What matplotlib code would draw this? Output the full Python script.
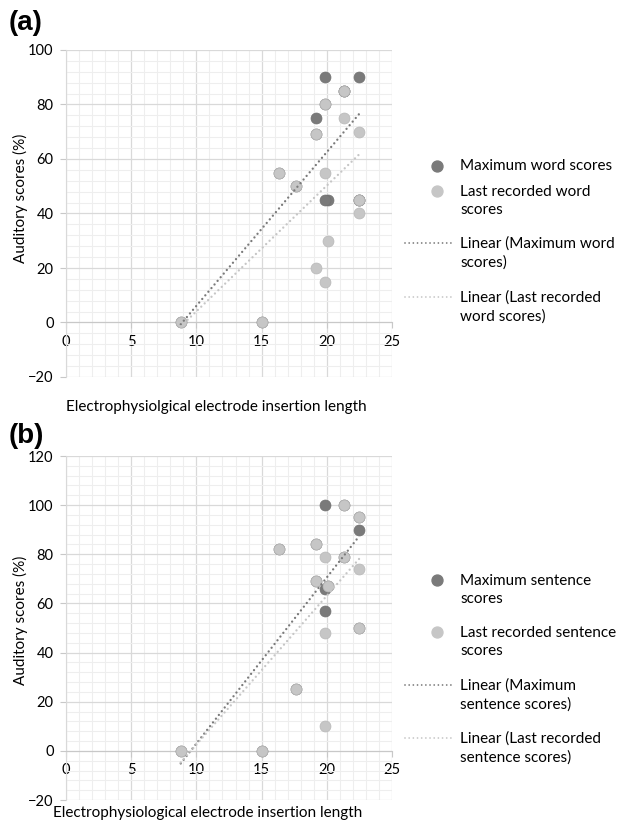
import matplotlib
matplotlib.use("Agg")
import matplotlib.pyplot as plt
from matplotlib.lines import Line2D
from matplotlib.ticker import MultipleLocator
import numpy as np

plt.rcParams['font.family'] = ['Lato', 'DejaVu Sans']

# Panel (a) - word scores
len_a = [21.3, 19.9, 21.3, 19.2, 22.5, 16.3, 19.9, 17.6, 22.5, 22.5, 20.1, 19.2, 19.9, 8.8, 15]
max_word = [85, 90, 85, 75, 90, 55, 80, 50, 45, 45, 45, 69, 45, 0, 0]
last_word = [85, 80, 75, 69, 70, 55, 55, 50, 45, 40, 30, 20, 15, 0, 0]

# Panel (b) - sentence scores
len_b = [21.3, 22.5, 16.3, 19.2, 19.9, 21.3, 22.5, 19.2, 20.1, 19.9, 22.5, 17.6, 19.9, 8.8, 15]
max_sent = [100, 95, 82, 84, 100, 79, 90, 69, 67, 66, 50, 25, 57, 0, 0]
last_sent = [100, 95, 82, 84, 79, 79, 74, 69, 67, 48, 50, 25, 10, 0, 0]

DARK = '#7a7a7a'
LIGHT = '#c6c6c6'
W, H = 625, 830
DOTS = (0, (0.01, 2.0))

fig = plt.figure(figsize=(W / 100, H / 100), dpi=100)


def px_box(left, top, right, bottom):
    return [left / W, 1 - bottom / H, (right - left) / W, (bottom - top) / H]


def panel(ax, x, ymax, ylast, ylim, yticks):
    ax.set_xlim(0, 25)
    ax.set_ylim(*ylim)
    ax.xaxis.set_major_locator(MultipleLocator(5))
    ax.xaxis.set_minor_locator(MultipleLocator(1))
    ax.set_yticks(yticks)
    ax.yaxis.set_minor_locator(MultipleLocator(4))
    ax.grid(which='major', color='#d9d9d9', lw=0.9, zorder=0)
    ax.grid(which='minor', color='#eeeeee', lw=0.8, zorder=0)
    ax.set_axisbelow(True)
    for s in ['top', 'right']:
        ax.spines[s].set_visible(False)
    ax.spines['left'].set_color('#d9d9d9')
    ax.spines['bottom'].set_position(('data', 0))
    ax.spines['bottom'].set_color('#c8c8c8')
    ax.tick_params(which='major', length=4, color='#c8c8c8', labelsize=10.5,
                   labelcolor='black', pad=5)
    ax.tick_params(which='minor', length=0)

    ax.scatter(x, ymax, s=62, color=DARK, edgecolors='#707070', linewidths=0.5, zorder=3)
    ax.scatter(x, ylast, s=62, color=LIGHT, edgecolors='#b8b8b8', linewidths=0.5, zorder=4)

    # linear trendlines over the x range of each series
    xs = np.array([min(x), max(x)])
    for y, c in [(ymax, DARK), (ylast, LIGHT)]:
        k, b = np.polyfit(x, y, 1)
        ax.plot(xs, k * xs + b, color=c, lw=1.7, linestyle=DOTS,
                dash_capstyle='round', zorder=5)


ax1 = fig.add_axes(px_box(66, 50, 392, 377))
panel(ax1, len_a, max_word, last_word, (-20, 100), [-20, 0, 20, 40, 60, 80, 100])
ax2 = fig.add_axes(px_box(66, 456, 392, 800))
panel(ax2, len_b, max_sent, last_sent, (-20, 120), [-20, 0, 20, 40, 60, 80, 100, 120])

# overlay in pixel coordinates for labels and legends
ov = fig.add_axes([0, 0, 1, 1])
ov.set_xlim(0, W)
ov.set_ylim(H, 0)
ov.axis('off')

ov.text(9, 23, '(a)', fontsize=20, fontweight='bold', family='Liberation Sans', va='center')
ov.text(9, 436, '(b)', fontsize=20, fontweight='bold', family='Liberation Sans', va='center')
ov.text(20, 198, 'Auditory scores (%)', rotation=90, fontsize=11, ha='center', va='center')
ov.text(20, 620, 'Auditory scores (%)', rotation=90, fontsize=11, ha='center', va='center')
ov.text(216, 407, 'Electrophysiolgical electrode insertion length', fontsize=11,
        ha='center', va='center')
ov.text(208, 813, 'Electrophysiological electrode insertion length', fontsize=11,
        ha='center', va='center')

legend_a = [('Maximum word scores', 166, 'm', DARK),
            ('Last recorded word\nscores', 201, 'm', LIGHT),
            ('Linear (Maximum word\nscores)', 253, 'l', DARK),
            ('Linear (Last recorded\nword scores)', 307, 'l', LIGHT)]
legend_b = [('Maximum sentence\nscores', 590, 'm', DARK),
            ('Last recorded sentence\nscores', 642, 'm', LIGHT),
            ('Linear (Maximum\nsentence scores)', 695, 'l', DARK),
            ('Linear (Last recorded\nsentence scores)', 748, 'l', LIGHT)]

for label, yc, kind, c in legend_a + legend_b:
    first = yc - 10 if '\n' in label else yc
    if kind == 'm':
        ov.scatter([437], [first], s=62, color=c, zorder=3)
    else:
        ov.add_line(Line2D([405, 453], [first, first], color=c, lw=1.3,
                           linestyle=(0, (0.01, 2.3)), dash_capstyle='round'))
    ov.text(460, yc, label, fontsize=11, va='center', ha='left', linespacing=1.45)

fig.savefig('out.png', dpi=100)
